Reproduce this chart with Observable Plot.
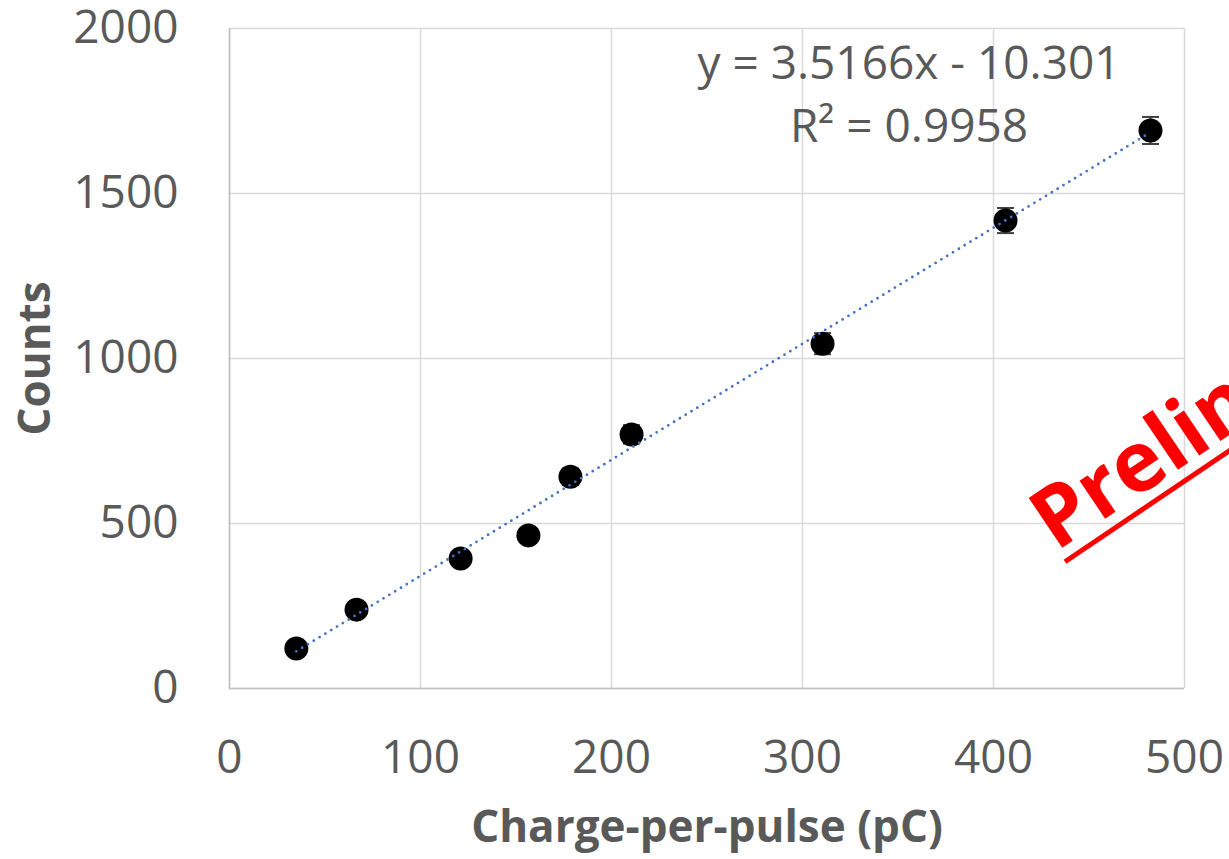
<!DOCTYPE html>
<html><head><meta charset="utf-8">
<script src="https://cdn.jsdelivr.net/npm/d3@7"></script>
<script src="https://cdn.jsdelivr.net/npm/@observablehq/plot@0.6"></script>
<style>html,body{margin:0;padding:0;background:#fff;overflow:hidden}</style>
</head><body><div id="chart"></div>
<script>
// Data
const charge = [35, 66.5, 121, 156.5, 178.5, 210.5, 310.5, 406.3, 482.2];
const counts = [121, 239, 394, 464, 642, 770, 1045, 1418, 1691];
const countErr = [11, 15, 20, 22, 25, 28, 32, 38, 41];
const xTicks = [0, 100, 200, 300, 400, 500];
const yTicks = [0, 500, 1000, 1500, 2000];
const fitSlope = 3.5166;
const fitIntercept = -10.301;
const fitR2 = 0.9958;
const xLabel = "Charge-per-pulse (pC)";
const yLabel = "Counts";
const stamp = "Preliminary";
const stampX = 433, stampY = 412; // stamp anchor in data units

const W = 1229, H = 859, mL = 229, mR = 45, mT = 28, mB = 171;
const font = "'Open Sans', sans-serif";
const grey = "#595959";

const data = charge.map((x, i) => ({x, y: counts[i], e: countErr[i]}));
const fit = d3.extent(charge).map(x => ({x, y: fitSlope * x + fitIntercept}));
const eq = `y = ${fitSlope}x - ${Math.abs(fitIntercept)}\nR² = ${fitR2}`;
const capSymbol = {draw(ctx) { ctx.moveTo(-8.5, 0); ctx.lineTo(8.5, 0); }};

const plot = Plot.plot({
  width: W, height: H,
  marginLeft: mL, marginRight: mR, marginTop: mT, marginBottom: mB,
  style: {fontFamily: font, fontSize: "46px", color: grey, background: "white"},
  x: {domain: [0, 500], ticks: xTicks, tickSize: 0, tickPadding: 52, label: null, tickFormat: d => String(d)},
  y: {domain: [0, 2000], ticks: yTicks, tickSize: 0, tickPadding: 51, label: null, tickFormat: d => String(d)},
  marks: [
    Plot.ruleX(xTicks, {stroke: "#d9d9d9", strokeWidth: 1.5}),
    Plot.ruleY(yTicks, {stroke: "#d9d9d9", strokeWidth: 1.5}),
    Plot.ruleX([0], {stroke: "#bfbfbf", strokeWidth: 1.5}),
    Plot.ruleY([0], {stroke: "#bfbfbf", strokeWidth: 1.5}),
    Plot.ruleX(data, {x: "x", y1: d => d.y - d.e, y2: d => d.y + d.e, stroke: "#404040", strokeWidth: 2}),
    Plot.dot(data, {x: "x", y: d => d.y + d.e, symbol: capSymbol, r: 5, fill: "none", stroke: "#404040", strokeWidth: 2}),
    Plot.dot(data, {x: "x", y: d => d.y - d.e, symbol: capSymbol, r: 5, fill: "none", stroke: "#404040", strokeWidth: 2}),
    Plot.dot(data, {x: "x", y: "y", r: 12, fill: "black", stroke: "none"}),
    Plot.line(fit, {x: "x", y: "y", stroke: "#4472C4", strokeWidth: 2.8, strokeDasharray: "0 6.8", strokeLinecap: "round"}),
    Plot.text([eq], {frameAnchor: "top", textAnchor: "middle", dx: 202, dy: 6, fontSize: 46, lineHeight: 1.37, lineAnchor: "top", fill: grey}),
    Plot.text([xLabel], {frameAnchor: "bottom", textAnchor: "middle", dy: 153, fontSize: 44, fontWeight: "bold", fill: grey}),
    Plot.text([yLabel], {frameAnchor: "left", textAnchor: "middle", dx: -194, rotate: -90, fontSize: 44, fontWeight: "bold", fill: grey})
  ]
});
document.getElementById("chart").appendChild(plot);

// "Preliminary" stamp with underline
const sx = d3.scaleLinear([0, 500], [mL, W - mR]);
const sy = d3.scaleLinear([0, 2000], [H - mB, mT]);
const svg = d3.select(plot.tagName.toLowerCase() === "svg" ? plot : plot.querySelector("svg"));
const g = svg.append("g").attr("transform", `translate(${sx(stampX)},${sy(stampY)}) rotate(-34)`);
const t = g.append("text").text(stamp).attr("text-anchor", "start")
  .attr("font-family", font).attr("font-size", 84).attr("font-weight", "bold").attr("fill", "#ff0000");
const len = t.node().getComputedTextLength();
g.append("line").attr("x1", 2).attr("x2", len).attr("y1", 13).attr("y2", 13)
  .attr("stroke", "#ff0000").attr("stroke-width", 5);
</script>
</body></html>
